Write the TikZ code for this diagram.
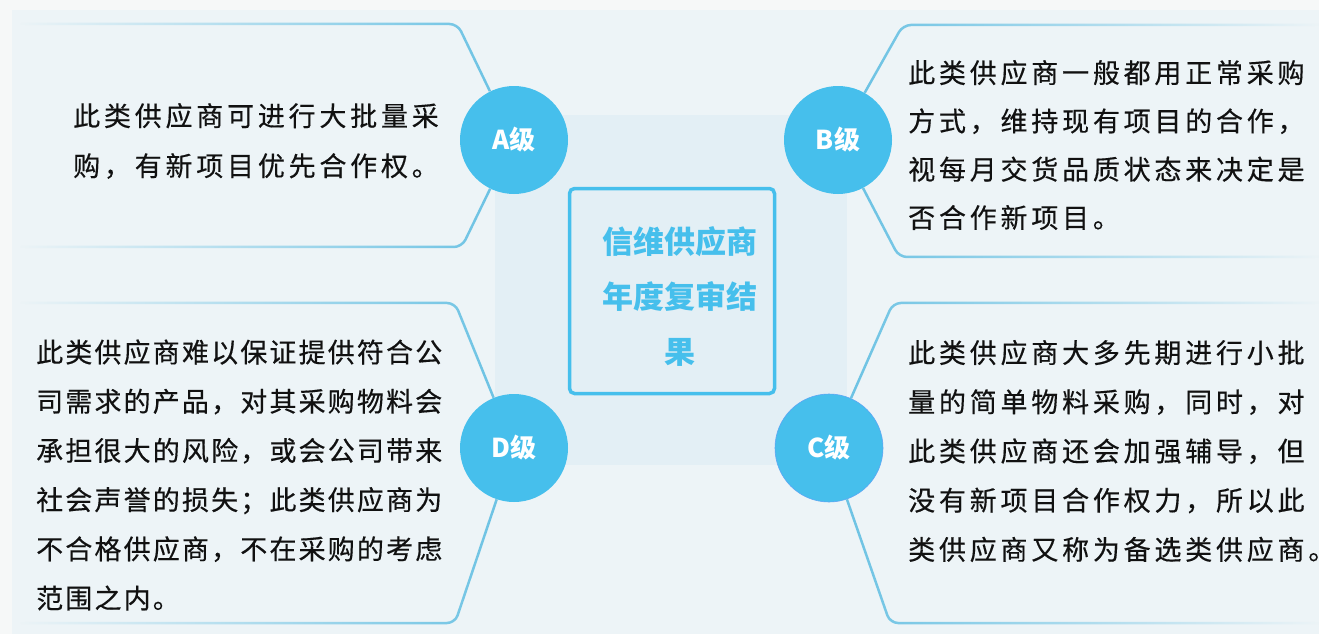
\documentclass[tikz,border=0pt]{standalone}
\usepackage{fontspec}
\setmainfont{Noto Sans CJK SC}
\newfontfamily\cjk[LetterSpace=14,FakeBold=0.4]{Noto Sans CJK SC}
\newfontfamily\cjkd[LetterSpace=8,FakeBold=0.4]{Noto Sans CJK SC}
\usepackage{tikz}
\usetikzlibrary{fadings,positioning}
\definecolor{outerbg}{HTML}{F6F8F8}
\definecolor{panelbg}{HTML}{EDF4F7}
\definecolor{centerbg}{HTML}{E3EFF5}
\definecolor{gradec}{HTML}{46BFEC}
\definecolor{linec}{HTML}{6DC3E4}
\definecolor{textc}{HTML}{111111}
\tikzfading[name=fadeleft, left color=transparent!100, middle color=transparent!0, right color=transparent!0]
\tikzfading[name=faderight, left color=transparent!0, middle color=transparent!0, right color=transparent!100]

\begin{document}
\begin{tikzpicture}[x=1pt,y=-1pt,
  bracket/.style={draw=linec,line width=2.5pt,rounded corners=8pt},
  grade/.style={circle,fill=gradec,minimum size=108pt,inner sep=0pt,text=white,font=\bfseries\fontsize{26}{26}\selectfont},
  desc/.style={anchor=west,align=left,inner sep=0pt,text=textc}]
\useasboundingbox (0,0) rectangle (1319,634);
\fill[outerbg] (0,0) rectangle (1319,634);
\fill[panelbg] (12,10) rectangle (1319,634);
\fill[centerbg] (495,115) rectangle (847,465);

\node[draw=gradec,line width=3.5pt,rounded corners=5pt,fill=centerbg,minimum width=205pt,minimum height=205pt] (title) at (672,291) {};
\node[text=gradec,align=center,inner sep=0pt,font=\bfseries\fontsize{31}{55}\selectfont] (titletext) at (680,296) {信维供应商\\年度复审结\\果};

\node[grade] (gA) at (514,140) {A级};
\node[grade] (gB) at (838,140) {B级};
\node[grade] (gD) at (514,448) {D级};
\node[grade,draw=gradec!75!blue!80,line width=0.6pt] (gC) at (829,448) {C级};

\coordinate (aTop) at (458,24);
\coordinate (aBot) at (462,247);
\coordinate (bTop) at (903,25);
\coordinate (bBot) at (899,257);
\coordinate (dTop) at (455,303);
\coordinate (dBot) at (455,623);
\coordinate (cTop) at (893,303);
\coordinate (cBot) at (890,623);
\draw[bracket,path fading=fadeleft] (20,24) -- (aTop) -- (gA);
\draw[bracket,path fading=fadeleft] (20,247) -- (aBot) -- (gA);
\draw[bracket,path fading=faderight] (1319,25) -- (bTop) -- (gB);
\draw[bracket,path fading=faderight] (1319,257) -- (bBot) -- (gB);
\draw[bracket,path fading=fadeleft] (20,303) -- (dTop) -- (gD);
\draw[bracket,path fading=fadeleft] (20,623) -- (dBot) -- (gD);
\draw[bracket,path fading=faderight] (1319,303) -- (cTop) -- (gC);
\draw[bracket,path fading=faderight] (1319,623) -- (cBot) -- (gC);

\node[desc,font=\cjk\fontsize{27}{50}\selectfont] (textA) at (73,141) {此类供应商可进行大批量采\\购，有新项目优先合作权。};
\node[desc,font=\cjk\fontsize{27}{48.3}\selectfont] (textB) at (908,145) {此类供应商一般都用正常采购\\方式，维持现有项目的合作，\\视每月交货品质状态来决定是\\否合作新项目。};
\node[desc,font=\cjk\fontsize{27}{49.2}\selectfont] (textC) at (908,451) {此类供应商大多先期进行小批\\量的简单物料采购，同时，对\\此类供应商还会加强辅导，但\\没有新项目合作权力，所以此\\类供应商又称为备选类供应商。};
\node[desc,font=\cjkd\fontsize{27}{49.2}\selectfont] (textD) at (36,475) {此类供应商难以保证提供符合公\\司需求的产品，对其采购物料会\\承担很大的风险，或会公司带来\\社会声誉的损失；此类供应商为\\不合格供应商，不在采购的考虑\\范围之内。};
\end{tikzpicture}
\end{document}
